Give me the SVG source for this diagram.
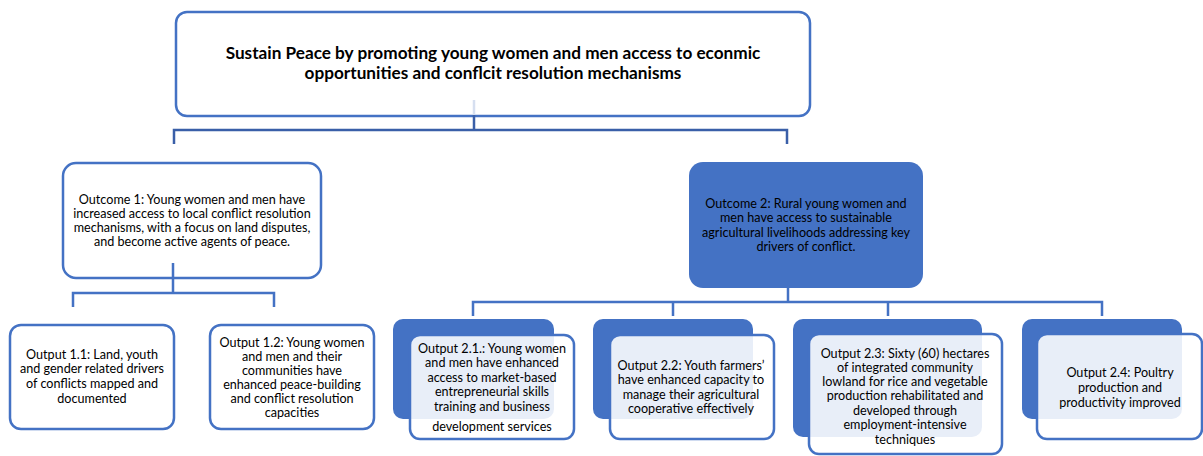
<svg xmlns="http://www.w3.org/2000/svg" width="1203" height="456" viewBox="0 0 1203 456">
  <style>
    .box { fill: #ffffff; stroke: #4472C4; stroke-width: 2.5; }
    .solid { fill: #4472C4; stroke: none; }
    .front { fill: #ffffff; fill-opacity: 0.88; stroke: #4472C4; stroke-width: 2.5; }
    .link { fill: none; stroke: #4472C4; stroke-width: 2.5; }
    .link-dark { fill: none; stroke: #3A5FA8; stroke-width: 2.5; }
    .link-faint { fill: none; stroke: #D6DFF0; stroke-width: 2.5; }
    text { font-family: Lato, "Liberation Sans", sans-serif; font-size: 12.6px; fill: #000000; text-anchor: middle; }
    .title { font-size: 17.2px; font-weight: bold; }
  </style>

  <!-- goal -->
  <g id="goal">
    <rect class="box" x="176" y="12" width="634" height="104" rx="11"/>
    <text class="title" x="493" y="59">Sustain Peace by promoting young women and men access to econmic</text>
    <text class="title" x="493" y="79">opportunities and conflcit resolution mechanisms</text>
  </g>

  <!-- outcome 1 -->
  <g id="outcome1">
    <rect class="box" x="63" y="163" width="258" height="115" rx="13"/>
    <text x="192" y="203.5">Outcome 1: Young women and men have</text>
    <text x="192" y="217.5">increased access to local conflict resolution</text>
    <text x="192" y="231.5">mechanisms, with a focus on land disputes,</text>
    <text x="192" y="245.5">and become active agents of peace.</text>
  </g>

  <!-- outcome 2 -->
  <g id="outcome2">
    <rect class="solid" x="689" y="162" width="234" height="126" rx="14"/>
    <text x="806" y="207.5">Outcome 2: Rural young women and</text>
    <text x="806" y="222">men have access to sustainable</text>
    <text x="806" y="236.5">agricultural livelihoods addressing key</text>
    <text x="806" y="251">drivers of conflict.</text>
  </g>

  <!-- outputs under outcome 1 -->
  <g id="output1-1">
    <rect class="box" x="10" y="325" width="164" height="104" rx="11"/>
    <text x="92" y="358.5">Output 1.1: Land, youth</text>
    <text x="92" y="372.5">and gender related drivers</text>
    <text x="92" y="387.5">of conflicts mapped and</text>
    <text x="92" y="402.5">documented</text>
  </g>

  <g id="output1-2">
    <rect class="box" x="210" y="325" width="164" height="104" rx="11"/>
    <text x="292" y="346.5">Output 1.2: Young women</text>
    <text x="292" y="360.5">and men and their</text>
    <text x="292" y="374.5">communities have</text>
    <text x="292" y="388.5">enhanced peace-building</text>
    <text x="292" y="402.5">and conflict resolution</text>
    <text x="292" y="416.5">capacities</text>
  </g>

  <!-- outputs under outcome 2: solid backing card with a translucent card in front -->
  <g id="output2-1">
    <rect class="solid" x="393" y="319" width="161" height="100" rx="10"/>
    <rect class="front" x="410" y="335" width="164" height="104" rx="10"/>
    <text x="492" y="352.5">Output 2.1.: Young women</text>
    <text x="492" y="367">and men have enhanced</text>
    <text x="492" y="381.5">access to market-based</text>
    <text x="492" y="396">entrepreneurial skills</text>
    <text x="492" y="410.5">training and business</text>
    <text x="492" y="430.5">development services</text>
  </g>

  <g id="output2-2">
    <rect class="solid" x="593" y="319" width="160" height="100" rx="10"/>
    <rect class="front" x="610" y="335" width="164" height="104" rx="10"/>
    <text x="691" y="369.5">Output 2.2: Youth farmers’</text>
    <text x="691" y="384">have enhanced capacity to</text>
    <text x="691" y="398.5">manage their agricultural</text>
    <text x="691" y="413">cooperative effectively</text>
  </g>

  <g id="output2-3">
    <rect class="solid" x="793" y="319" width="189" height="118" rx="10"/>
    <rect class="front" x="809" y="334" width="193" height="120" rx="10"/>
    <text x="905" y="357.5">Output 2.3: Sixty (60) hectares</text>
    <text x="905" y="371.5">of integrated community</text>
    <text x="905" y="385.5">lowland for rice and vegetable</text>
    <text x="905" y="400">production rehabilitated and</text>
    <text x="905" y="414.5">developed through</text>
    <text x="905" y="429">employment-intensive</text>
    <text x="905" y="443.5">techniques</text>
  </g>

  <g id="output2-4">
    <rect class="solid" x="1022" y="319" width="160" height="100" rx="10"/>
    <rect class="front" x="1037" y="334" width="165" height="105" rx="10"/>
    <text x="1120" y="376.5">Output 2.4: Poultry</text>
    <text x="1120" y="391.5">production and</text>
    <text x="1120" y="406.5">productivity improved</text>
  </g>

  <!-- connectors -->
  <g id="connectors">
    <path class="link-faint" d="M474 100 V115"/>
    <path class="link-dark" d="M474 115 V130 M174 144 V130 H787 V144"/>
    <path class="link" d="M173 263 V293 M73 307 V293 H274 V307"/>
    <path class="link" d="M788 288 V302 M473 316 V302 H1102 V316 M673 302 V316 M888 302 V316"/>
  </g>
</svg>
